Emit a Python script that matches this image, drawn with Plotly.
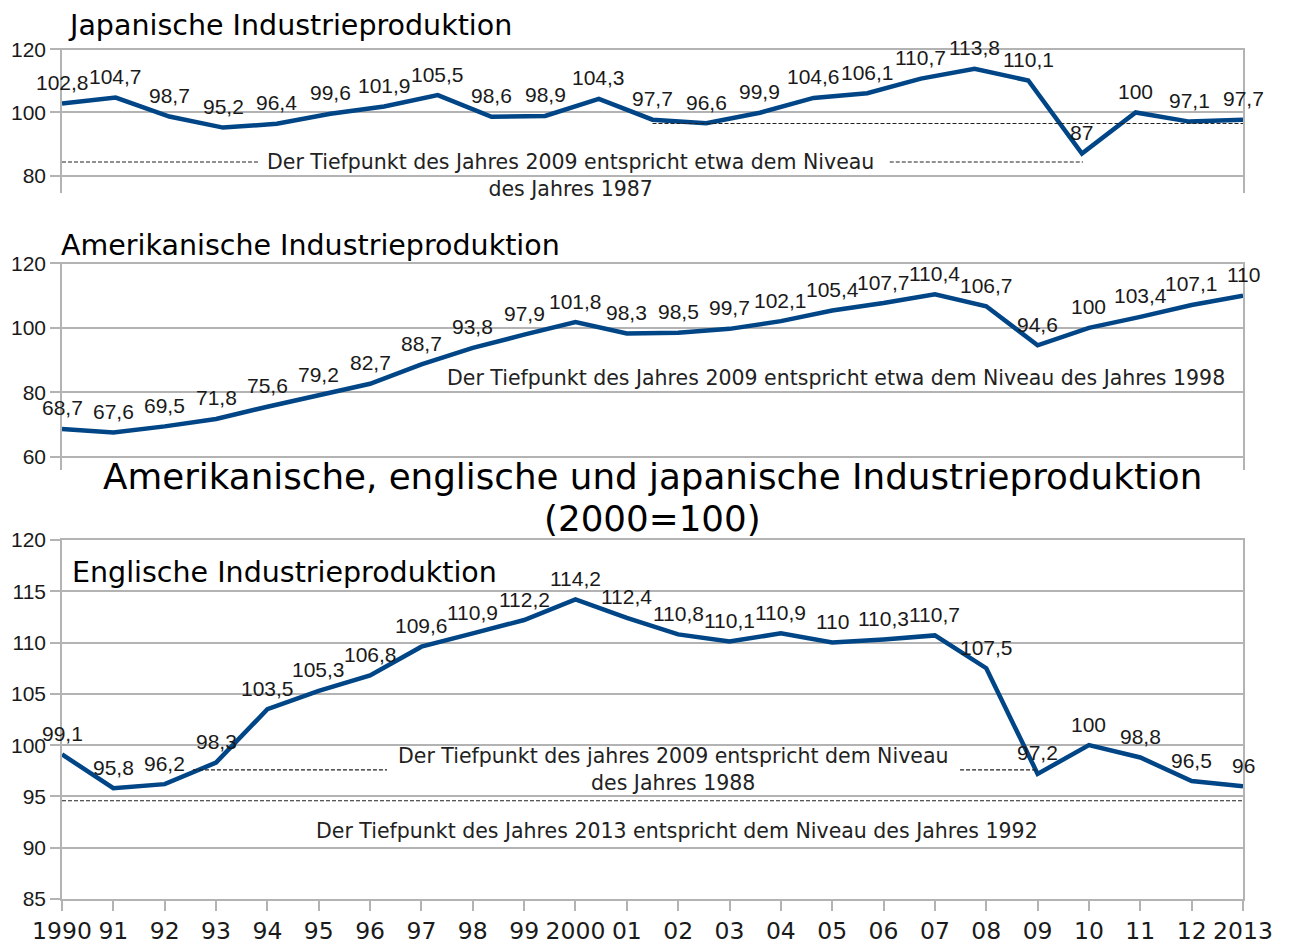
import plotly.graph_objects as go

# ---------------- data ----------------
years = list(range(1990, 2014))
year_labels = ["1990", "91", "92", "93", "94", "95", "96", "97", "98", "99", "2000",
               "01", "02", "03", "04", "05", "06", "07", "08", "09", "10", "11", "12", "2013"]

japan = [102.8, 104.7, 98.7, 95.2, 96.4, 99.6, 101.9, 105.5, 98.6, 98.9, 104.3, 97.7,
         96.6, 99.9, 104.6, 106.1, 110.7, 113.8, 110.1, 87, 100, 97.1, 97.7]
japan_pos = list(range(len(japan)))

usa = [68.7, 67.6, 69.5, 71.8, 75.6, 79.2, 82.7, 88.7, 93.8, 97.9, 101.8, 98.3,
       98.5, 99.7, 102.1, 105.4, 107.7, 110.4, 106.7, 94.6, 100, 103.4, 107.1, 110]

uk = [99.1, 95.8, 96.2, 98.3, 103.5, 105.3, 106.8, 109.6, 110.9, 112.2, 114.2, 112.4,
      110.8, 110.1, 110.9, 110, 110.3, 110.7, 107.5, 97.2, 100, 98.8, 96.5, 96]

# reference (dashed) lines: (x0, x1, level)
jp_ref_lines = [(11, 22, 96.5), (0, 3.65, 84.3), (15.42, 19.02, 84.3)]
uk_ref_lines = [(1992.55, 1996.33, 97.58), (2007.49, 2009.0, 97.58), (1990, 2013, 94.58)]

# ---------------- styles ----------------
LINE = "#004586"
GRID = "#b3b3b3"
TXT = "#1a1a1a"
SANS = "DejaVu Sans"
ARIAL = "Liberation Sans"


def fmt(v):
    return str(int(v)) if float(v).is_integer() else str(v).replace(".", ",")


fig = go.Figure()

fig.add_trace(go.Scatter(x=years, y=uk, mode="lines", xaxis="x", yaxis="y",
                         line=dict(color=LINE, width=4.5), hoverinfo="skip", showlegend=False))
fig.add_trace(go.Scatter(x=years, y=usa, mode="lines", xaxis="x2", yaxis="y2",
                         line=dict(color=LINE, width=4.5), hoverinfo="skip", showlegend=False))
fig.add_trace(go.Scatter(x=japan_pos, y=japan, mode="lines", xaxis="x3", yaxis="y3",
                         line=dict(color=LINE, width=4.5), hoverinfo="skip", showlegend=False))

annotations = []
for xs, ys, xr, yr in [(years, uk, "x", "y"), (years, usa, "x2", "y2"), (japan_pos, japan, "x3", "y3")]:
    for xv, yv in zip(xs, ys):
        annotations.append(dict(x=xv, y=yv, xref=xr, yref=yr, text=fmt(yv), showarrow=False,
                                yshift=21, yanchor="middle", xanchor="center",
                                font=dict(family=ARIAL, size=21, color=TXT)))

note_font = dict(family=SANS, size=20.5, color="#222222")
title_font = dict(family=SANS, size=28.5, color="#000000")
big_font = dict(family=SANS, size=35.7, color="#000000")
annotations += [
    dict(x=9.47, y=80, xref="x3", yref="y3", showarrow=False, align="center",
         text="Der Tiefpunkt des Jahres 2009 entspricht etwa dem Niveau<br>des Jahres 1987",
         font=note_font),
    dict(x=2005.08, y=84.5, xref="x2", yref="y2", showarrow=False,
         text="Der Tiefpunkt des Jahres 2009 entspricht etwa dem Niveau des Jahres 1998",
         font=note_font),
    dict(x=2001.9, y=97.6, xref="x", yref="y", showarrow=False, align="center",
         text="Der Tiefpunkt des jahres 2009 entspricht dem Niveau<br>des Jahres 1988",
         font=note_font),
    dict(x=2001.98, y=91.63, xref="x", yref="y", showarrow=False,
         text="Der Tiefpunkt des Jahres 2013 entspricht dem Niveau des Jahres 1992",
         font=note_font),
    # panel titles
    dict(x=0.0035, y=0.9809, xref="paper", yref="paper", xanchor="left", yanchor="middle",
         showarrow=False, text="Japanische Industrieproduktion", font=title_font),
    dict(x=-0.0025, y=0.7340, xref="paper", yref="paper", xanchor="left", yanchor="middle",
         showarrow=False, text="Amerikanische Industrieproduktion", font=title_font),
    dict(x=0.0068, y=0.3659, xref="paper", yref="paper", xanchor="left", yanchor="middle",
         showarrow=False, text="Englische Industrieproduktion", font=title_font),
    dict(x=0.5004, y=0.4747, xref="paper", yref="paper", xanchor="center", yanchor="middle",
         showarrow=False, text="Amerikanische, englische und japanische Industrieproduktion",
         font=big_font),
    dict(x=0.5004, y=0.4276, xref="paper", yref="paper", xanchor="center", yanchor="middle",
         showarrow=False, text="(2000=100)", font=big_font),
]

shapes = []
for x0, x1, lv in jp_ref_lines:
    shapes.append(dict(type="line", xref="x3", yref="y3", x0=x0, x1=x1, y0=lv, y1=lv,
                       line=dict(color="#222222", width=1.2, dash="4px,2px")))
for x0, x1, lv in uk_ref_lines:
    shapes.append(dict(type="line", xref="x", yref="y", x0=x0, x1=x1, y0=lv, y1=lv,
                       line=dict(color="#222222", width=1.2, dash="4px,2px")))

yfont = dict(family=ARIAL, size=21, color=TXT)
common_y = dict(showgrid=True, gridcolor=GRID, gridwidth=1.5, zeroline=False,
                showline=True, mirror=True, linecolor=GRID, linewidth=1.5,
                ticks="outside", ticklen=10, tickcolor=GRID, tickwidth=1.5,
                tickfont=yfont, fixedrange=True, automargin=False)
hidden_x = dict(showgrid=False, zeroline=False, showline=False, showticklabels=False,
                ticks="", fixedrange=True, automargin=False)

# the page body adds an 8px offset; the figure is sized so that the plot lands in place
fig.update_layout(
    width=1281, height=936,
    margin=dict(l=54, r=46, t=0, b=45, autoexpand=False),
    paper_bgcolor="white", plot_bgcolor="white",
    showlegend=False,
    xaxis=dict(domain=[0, 1], anchor="y", range=[1990, 2013], tickmode="array",
               tickvals=years, ticktext=year_labels, showgrid=False, zeroline=False,
               showline=True, mirror=True, linecolor=GRID, linewidth=1.5,
               ticks="outside", ticklen=10, tickcolor=GRID, tickwidth=1.5,
               tickfont=dict(family=SANS, size=23.5, color=TXT), fixedrange=True,
               automargin=False),
    yaxis=dict(domain=[0, 0.4029], anchor="x", range=[85, 120], tickmode="linear",
               tick0=85, dtick=5, **common_y),
    xaxis2=dict(domain=[0, 1], anchor="y2", range=[1990, 2013], **hidden_x),
    yaxis2=dict(domain=[0.4815, 0.7149], anchor="x2", range=[56, 120.4], tickmode="array",
                tickvals=[60, 80, 100, 120], **common_y),
    xaxis3=dict(domain=[0, 1], anchor="y3", range=[0, len(japan) - 1], **hidden_x),
    yaxis3=dict(domain=[0.7924, 0.9551], anchor="x3", range=[74.5, 120.4], tickmode="array",
                tickvals=[80, 100, 120], **common_y),
    annotations=annotations,
    shapes=shapes,
)

fig.write_html("out.html")
